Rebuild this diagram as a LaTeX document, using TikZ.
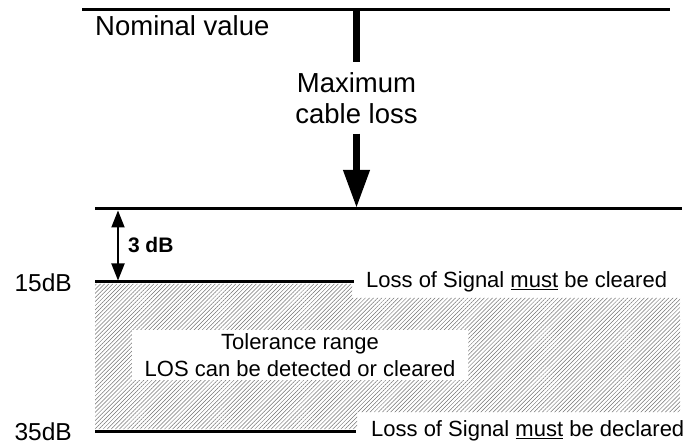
\documentclass[tikz,border=0pt]{standalone}
\usepackage{fontspec}
\setmainfont{Liberation Sans}
\usetikzlibrary{arrows.meta,patterns.meta,positioning}

\tikzset{
	levelline/.style={line width=3pt},
	bigtext/.style={font=\fontsize{27.5}{31}\selectfont, align=center, inner sep=0pt},
	smalltext/.style={font=\fontsize{22}{27}\selectfont, inner sep=0pt},
	dbtext/.style={font=\fontsize{24.5}{28}\selectfont, inner sep=0pt},
	hatch/.style={pattern={Lines[angle=45,distance=2.9pt,line width=0.5pt]}, pattern color=black!55},
}

\begin{document}
\begin{tikzpicture}[x=1pt,y=-1pt]
	\useasboundingbox (0,0) rectangle (691,446);

	% Toleranzbereich
	\fill[hatch] (95,284) -- (352,284) -- (352,298) -- (680,298) -- (680,412)
		-- (357,412) -- (357,429) -- (95,429) -- cycle;
	\node[smalltext, fill=white, align=center, minimum width=336pt, minimum height=50pt] (tolerance) at (300,355)
		{Tolerance range\\LOS can be detected or cleared};

	% Nominalwert
	\coordinate (nomL) at (82,10);
	\coordinate (nomR) at (670,10);
	\coordinate (nomA) at (356.5,10);
	\draw[levelline] (nomL) -- (nomR);
	\node[bigtext, anchor=base west] (nominal) at (95,36) {Nominal value};

	% Kabelverlust
	\coordinate (maxL) at (95,209);
	\coordinate (maxR) at (682,209);
	\coordinate (maxA) at (356.5,208);
	\draw[levelline] (maxL) -- (maxR);
	\node[bigtext, inner ysep=10pt, anchor=north] (cableloss) at (356.5,62) {Maximum\\cable loss};
	\draw[line width=7pt] (nomA) -- (cableloss.north);
	\draw[line width=7pt, -{Triangle[width=25pt,length=38pt]}] (cableloss.south) -- (maxA);

	% 15dB Schwelle
	\coordinate (clearL) at (95,282);
	\coordinate (clearR) at (354,282);
	\draw[levelline] (clearL) -- (clearR);
	\node[dbtext, anchor=east] (db15) at (72,283) {15dB};
	\node[smalltext, right=12pt of clearR] (cleared) {Loss of Signal \underline{must} be cleared};

	% Abstand 3 dB
	\coordinate (gapT) at (118,210.5);
	\coordinate (gapB) at (118,280.5);
	\draw[line width=2pt, {Triangle[width=13pt,length=17pt]}-{Triangle[width=13pt,length=17pt]}] (gapT) -- (gapB)
		node[midway, right=9pt, inner sep=0pt, font=\bfseries\fontsize{21}{25}\selectfont] (gap) {3 dB};

	% 35dB Schwelle
	\coordinate (declL) at (95,431);
	\coordinate (declR) at (356,431);
	\draw[levelline] (declL) -- (declR);
	\node[dbtext, anchor=base east] (db35) at (72,440.5) {35dB};
	\node[smalltext, right=15pt of declR] (declared) {Loss of Signal \underline{must} be declared};
\end{tikzpicture}
\end{document}
